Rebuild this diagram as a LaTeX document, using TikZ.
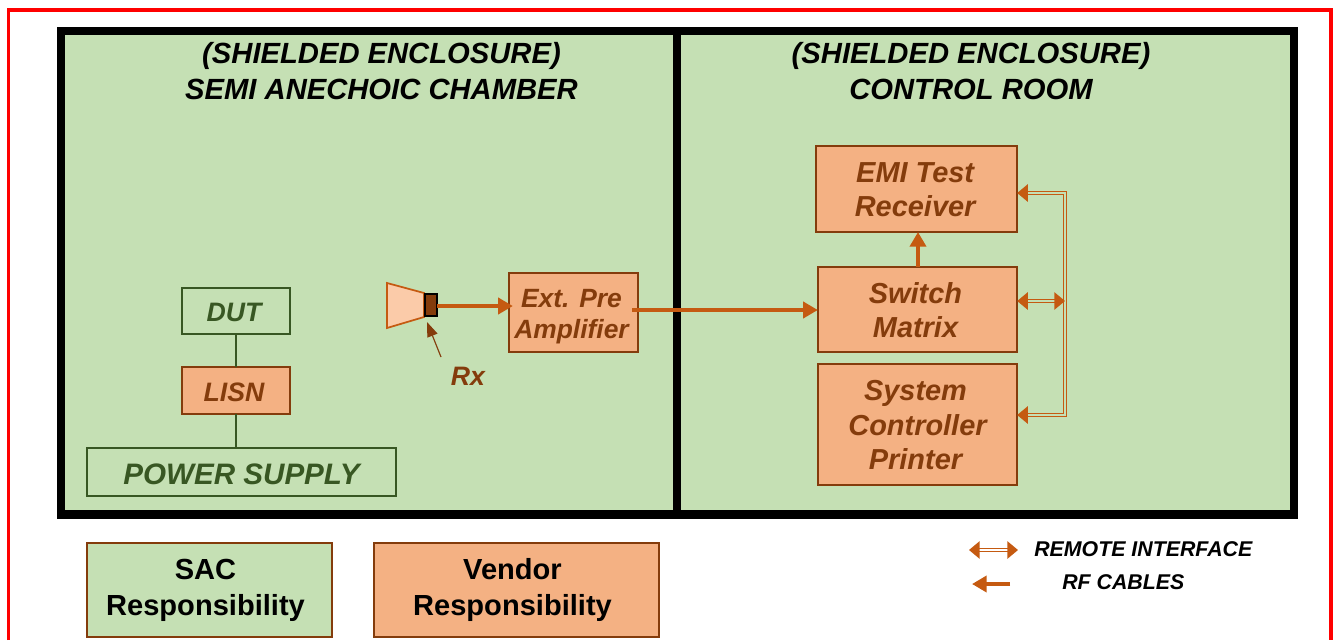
\documentclass[tikz,border=0pt]{standalone}
\usepackage{fontspec}
\setmainfont{Liberation Sans}
\usetikzlibrary{arrows.meta,positioning}
\definecolor{sacgreen}{HTML}{C5E0B4}
\definecolor{vendororange}{HTML}{F4B183}
\definecolor{hornfill}{HTML}{FBCBA9}
\definecolor{cableorange}{HTML}{C55A11}
\definecolor{vendorbrown}{HTML}{843C0C}
\definecolor{sactext}{HTML}{385723}
\newcommand{\toppad}[1]{\rule{0pt}{#1}}
\newcommand{\rightpad}[1]{\hspace*{#1}}
\tikzset{
  room/.style={draw=black,line width=6.5pt,fill=sacgreen},
  title/.style={align=center,font=\fontsize{21.9}{27}\selectfont\bfseries\itshape},
  vendorbox/.style={draw=vendorbrown,line width=1.4pt,fill=vendororange,text=vendorbrown,align=center,outer sep=0pt,inner sep=0pt,font=\fontsize{21.7}{25.7}\selectfont\bfseries\itshape},
  sacbox/.style={draw=sactext,line width=1.1pt,fill=sacgreen,text=sactext,align=center,outer sep=0pt,inner sep=0pt,font=\fontsize{20}{24}\selectfont\bfseries\itshape},
  legendbox/.style={draw=vendorbrown,line width=1.4pt,text=black,align=center,outer sep=0pt,inner sep=0pt,font=\fontsize{21.8}{27}\selectfont\bfseries},
  rfcable/.style={draw=cableorange,line width=2.8pt,-{Triangle[length=11pt,width=12pt]}},
  remote/.style={draw=cableorange,line width=1.3pt,double=sacgreen,double distance=1pt,{Triangle[length=8pt,width=13pt]}-{Triangle[length=8pt,width=13pt]}},
  legendtext/.style={text=black,font=\fontsize{16}{18}\selectfont\bfseries\itshape,inner sep=0pt}
}
\begin{document}
\begin{tikzpicture}[x=0.75pt,y=-0.75pt]
\useasboundingbox (0,0) rectangle (1336,640);
\draw[red,line width=2.8pt] (8.5,640) -- (8.5,10) -- (1331,10) -- (1331,640); %frame
  %----rooms----%
  \draw[room] (61,31) rectangle (677,514.5);
  \draw[room] (677,31) rectangle (1294,514.5);
  \node[title] (sactitle) at (381.5,71) {(SHIELDED ENCLOSURE)\\SEMI ANECHOIC CHAMBER};
  \node[title] (ctrltitle) at (971,71) {(SHIELDED ENCLOSURE)\\CONTROL ROOM};
  %----chamber----%
  \node[sacbox,minimum width=81pt,minimum height=34.5pt] (dut) at (236,311) {\toppad{15.9pt}DUT\rightpad{3pt}};
  \node[vendorbox,minimum width=81pt,minimum height=35pt,font=\fontsize{20}{24}\selectfont\bfseries\itshape] (lisn) at (236,390.5) {\toppad{17.4pt}LISN\rightpad{3pt}};
  \node[sacbox,minimum width=232pt,minimum height=36pt,font=\fontsize{22.2}{25}\selectfont\bfseries\itshape] (power) at (241.5,472) {\toppad{19pt}POWER SUPPLY};
  \draw[sactext,line width=0.8pt] (dut) -- (lisn);
  \draw[sactext,line width=0.8pt] (lisn) -- (lisn |- power.north);
  \draw[cableorange,line width=1.3pt,fill=hornfill] (424,293) -- (387,283) -- (387,328) -- (424,317) -- cycle; %horn
  \node[draw=black,line width=1.5pt,fill=vendorbrown,minimum width=9.5pt,minimum height=17pt,inner sep=0pt,outer sep=0pt] (rx) at (431,305) {};
  \node[vendorbox,minimum width=97pt,minimum height=59pt,font=\fontsize{19.8}{23.3}\selectfont\bfseries\itshape] (amp) at (573.5,312.5) {\toppad{19.5pt}Ext. Pre\rightpad{3pt}\\Amplifier\rightpad{3pt}};
  \node[text=vendorbrown,inner sep=0pt,font=\fontsize{20}{24}\selectfont\bfseries\itshape] (rxlabel) at (468,376) {Rx};
  \coordinate (rxtail) at (441,357);
  \coordinate (rxtip) at (427,322);
  \draw[vendorbrown,line width=0.9pt,-{Triangle[length=11pt,width=8pt]}] (rxtail) -- (rxtip);
  %----control room----%
  \node[vendorbox,minimum width=151pt,minimum height=64.5pt] (emi) at (916.5,189) {\toppad{16.3pt}EMI Test\rightpad{2pt}\\Receiver\rightpad{2pt}};
  \node[vendorbox,minimum width=149.5pt,minimum height=64pt] (switch) at (917.5,309.5) {\toppad{17.1pt}Switch\rightpad{3pt}\\Matrix\rightpad{3pt}};
  \node[vendorbox,minimum width=149.5pt,minimum height=91pt] (sys) at (917.5,424.5) {\toppad{16.3pt}System\rightpad{3pt}\\Controller\rightpad{3pt}\\Printer\rightpad{3pt}};
  %----rf cables----%
  \coordinate (ampout) at (632,310);
  \draw[rfcable,shorten >=-3pt] (rx.east |- 0,306) -- (amp.west |- 0,306);
  \draw[rfcable] (ampout) -- (switch.west |- ampout);
  \draw[rfcable] (switch.north -| 918,0) -- (emi.south -| 918,0);
  %----remote----%
  \coordinate (bustop) at (1065,193);
  \coordinate (busmid) at (1065,301);
  \coordinate (busbot) at (1065,415);
  \draw[remote] (emi.east |- bustop) -- (bustop) -- (busbot) -- (sys.east |- busbot);
  \draw[remote] (switch.east |- busmid) -- (busmid);
  %----legend----%
  \node[legendbox,fill=sacgreen,minimum width=183.5pt,minimum height=70.5pt] (sacleg) at (209.5,590) {SAC\rightpad{6pt}\\Responsibility\rightpad{6pt}};
  \node[legendbox,fill=vendororange,minimum width=213.5pt,minimum height=70.5pt] (vendorleg) at (516.5,590) {Vendor\rightpad{6pt}\\Responsibility\rightpad{6pt}};
  \coordinate (remoteleft) at (969,550);
  \coordinate (remoteright) at (1018,550);
  \coordinate (rftail) at (1010,584);
  \coordinate (rftip) at (972,584);
  \draw[remote,double=white] (remoteleft) -- (remoteright);
  \draw[rfcable] (rftail) -- (rftip);
  \node[legendtext,anchor=west] (remotelabel) at (1034,549) {REMOTE INTERFACE};
  \node[legendtext,anchor=west] (rflabel) at (1062,582) {RF CABLES};
\end{tikzpicture}
\end{document}
